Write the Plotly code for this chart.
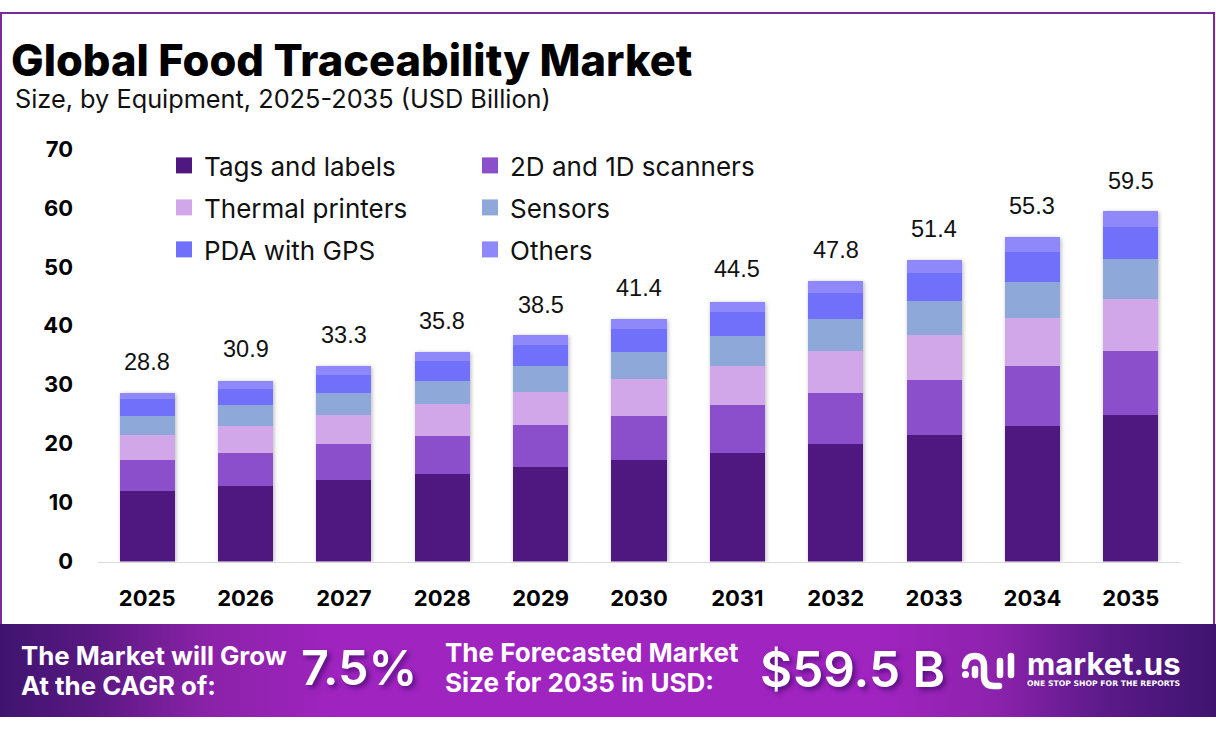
import plotly.graph_objects as go

W, H = 1216, 731
FONT = "Inter"

years = ["2025", "2026", "2027", "2028", "2029", "2030", "2031", "2032", "2033", "2034", "2035"]
totals = [28.8, 30.9, 33.3, 35.8, 38.5, 41.4, 44.5, 47.8, 51.4, 55.3, 59.5]

tags_labels = [11.9, 12.8, 13.9, 14.9, 16.1, 17.3, 18.4, 20.0, 21.5, 23.0, 24.9]
scanners = [5.4, 5.6, 6.1, 6.4, 7.0, 7.4, 8.1, 8.6, 9.3, 10.1, 10.9]
thermal_printers = [4.2, 4.6, 4.9, 5.4, 5.7, 6.3, 6.6, 7.2, 7.7, 8.2, 8.8]
sensors = [3.2, 3.5, 3.7, 4.0, 4.3, 4.6, 5.1, 5.4, 5.7, 6.2, 6.8]
pda_gps = [2.8, 2.7, 3.1, 3.3, 3.6, 3.9, 4.1, 4.4, 4.8, 5.1, 5.4]
others = [1.1, 1.4, 1.4, 1.5, 1.7, 1.7, 1.8, 2.0, 2.2, 2.5, 2.6]

series = [
    ("Tags and labels", tags_labels, "#4e1880", "legend"),
    ("2D and 1D scanners", scanners, "#8b4fcb", "legend"),
    ("Thermal printers", thermal_printers, "#d1a7ea", "legend2"),
    ("Sensors", sensors, "#8ea8da", "legend2"),
    ("PDA with GPS", pda_gps, "#7070fb", "legend3"),
    ("Others", others, "#8f88fb", "legend3"),
]

fig = go.Figure()

for name, values, color, legend in series:
    fig.add_trace(go.Bar(x=years, y=values, name=name, marker=dict(color=color, line_width=0),
                         showlegend=False, hoverinfo="x+y+name"))
    # bar swatches in the legend are too small, so a marker only entry stands in
    fig.add_trace(go.Scatter(x=[None], y=[None], name=name, mode="markers", legend=legend,
                             marker=dict(color=color, symbol="square", size=16)))

# purple band at the bottom, drawn on a second set of axes that spans the page in pixels
fig.add_trace(go.Scatter(
    x=[0, W, W, 0, 0], y=[624, 624, 717, 717, 624], xaxis="x2", yaxis="y2",
    mode="lines", line_width=0, fill="toself", showlegend=False, hoverinfo="skip",
    fillgradient=dict(type="horizontal", colorscale=[
        [0, "#3f1470"], [0.07, "#56187f"], [0.17, "#8a22a8"], [0.28, "#a024c0"],
        [0.72, "#a024c0"], [0.82, "#8c22ac"], [0.91, "#5a1a88"], [1, "#3f1470"]]),
))

fig.update_layout(
    width=W, height=H,
    margin=dict(l=0, r=0, t=0, b=0, autoexpand=False),
    paper_bgcolor="white", plot_bgcolor="rgba(0,0,0,0)",
    barmode="stack", bargap=0.44,
    font=dict(family=FONT, color="#000000"),
    xaxis=dict(domain=[98 / W, 1180 / W], type="category", showgrid=False, showline=True,
               linecolor="#d9d9d9", linewidth=1, ticks="", ticklabelstandoff=17,
               tickfont=dict(size=22, weight=700)),
    yaxis=dict(domain=[(H - 561.5) / H, (H - 149) / H], range=[0, 70], dtick=10, showgrid=False,
               zeroline=False, ticks="", ticklabelstandoff=24, tickfont=dict(size=22, weight=700)),
    xaxis2=dict(domain=[0, 1], range=[0, W], visible=False, fixedrange=True, anchor="y2"),
    yaxis2=dict(domain=[0, 1], range=[H, 0], visible=False, fixedrange=True, anchor="x2"),
)

for legend, top in [("legend", 142), ("legend2", 184), ("legend3", 226)]:
    fig.update_layout({legend: dict(
        orientation="h", x=164 / W, xanchor="left", y=(H - top) / H, yanchor="top",
        entrywidth=261, entrywidthmode="pixels", itemwidth=30, traceorder="normal",
        bgcolor="rgba(0,0,0,0)", font=dict(size=26, color="#111111"))})

# border around the chart area
fig.add_shape(type="rect", xref="x2", yref="y2", x0=1, x1=1214, y0=13, y1=640,
              line=dict(color="#7a2a9a", width=2), layer="below")

# total on top of each bar, category axes take the position as an index here
for i, total in enumerate(totals):
    fig.add_annotation(x=i, y=total, text=f"{total}", showarrow=False, yshift=30,
                       font=dict(family="Liberation Sans", size=23.5, color="#111111"))


def page_text(x, y, text, size, weight=400, color="#000000", anchor="left", family=FONT, shadow="none"):
    fig.add_annotation(xref="x2", yref="y2", x=x, y=y, text=text, showarrow=False, xanchor=anchor,
                       yanchor="middle", borderpad=0,
                       font=dict(family=family, size=size, weight=weight, color=color, shadow=shadow))


page_text(10, 60, "Global Food Traceability Market", 43.4, 800)
page_text(14, 98, "Size, by Equipment, 2025-2035 (USD Billion)", 25.3, 400, "#111111")

page_text(20, 655, "The Market will Grow", 25.8, 700, "white")
page_text(20, 685, "At the CAGR of:", 25.8, 700, "white")
page_text(300, 667, "7.5%", 48.5, 600, "white", shadow="3px 3px 5px #5a1080")
page_text(444, 652, "The Forecasted Market", 26, 700, "white")
page_text(444, 682, "Size for 2035 in USD:", 26, 700, "white")
page_text(759, 669, "$59.5 B", 49.5, 600, "white", shadow="3px 3px 5px #5a1080")
page_text(1026, 663, "market.us", 31, 700, "white")
page_text(1026, 683, "ONE STOP SHOP FOR THE REPORTS", 7.7, 700, "white", family="DejaVu Sans")

# market.us logo mark
logo = dict(type="path", xref="x2", yref="y2", line=dict(color="white", width=6.5))
fig.add_shape(path="M965,666 Q966,656 975,656 Q984,656 984,667 V676 Q984,686 994,686 H999", **logo)
fig.add_shape(path="M975,669 V675", **logo)
fig.add_shape(path="M1000,661 V675", **logo)
fig.add_shape(path="M1011,656 V675", **logo)
fig.add_shape(type="circle", xref="x2", yref="y2", x0=962, x1=969, y0=671, y1=678,
              fillcolor="white", line_width=0)

fig.write_html("out.html", config={"displayModeBar": False}, post_script="""
document.body.style.margin = '0';
document.querySelectorAll('.barlayer').forEach(function (b) {
    b.style.filter = 'drop-shadow(1px 1px 2px rgba(70,70,90,0.4))';
});
document.querySelectorAll('.shapelayer path').forEach(function (p) {
    p.style.strokeLinecap = 'round';
});
""")
